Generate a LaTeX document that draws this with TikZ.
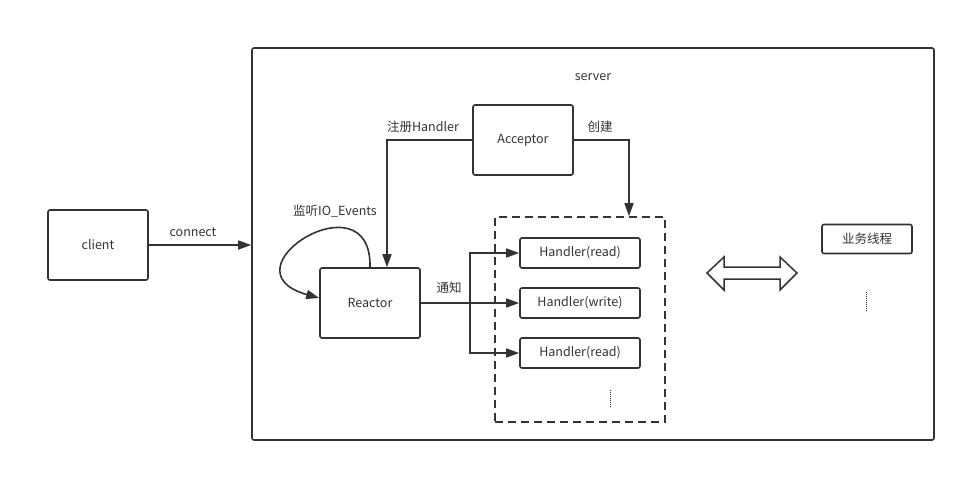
\documentclass[tikz,border=0pt]{standalone}
\usepackage{fontspec}
\setmainfont{Noto Sans CJK SC}
\usetikzlibrary{arrows.meta,positioning,calc}

\definecolor{ink}{HTML}{333333}

\begin{document}
\begin{tikzpicture}[x=1pt,y=-1pt,>={Triangle[length=13pt,width=9pt]},
  every node/.style={font=\fontsize{12.5}{14}\selectfont,text=ink},
  box/.style={draw=ink,line width=1.6pt,rounded corners=2pt,minimum width=100,minimum height=70},
  hbox/.style={draw=ink,line width=1.6pt,rounded corners=2pt,minimum width=120,minimum height=30},
  wbox/.style={draw=ink,line width=1.6pt,rounded corners=2pt,minimum width=90,minimum height=29},
  conn/.style={draw=ink,line width=1.6pt},
  arr/.style={conn,->}]
\useasboundingbox(0,0)rectangle(966,477);
% frames
\node[draw=ink,line width=1.6pt,rounded corners=2pt,minimum width=682,minimum height=392](server)at(593,244){};
\node(serverlbl)at(593,77){server};
\node[draw=ink,line width=1.6pt,dash pattern=on 8pt off 5pt,minimum width=170,minimum height=205](pool)at(580,319.5){};
% boxes
\node[box](client)at(98,245){client};
\node[box](acceptor)at(523,140){Acceptor};
\node[box](reactor)at(370,303){Reactor};
\node[hbox](h1)at(580,253){Handler(read)};
\node[hbox](h2)at(580,303){Handler(write)};
\node[hbox](h3)at(580,353){Handler(read)};
\node[wbox](worker)at(867,239){业务线程};
% connectors
\draw[arr](client.east)--(client.east-|server.west);
\node(connlbl)at(193,232){connect};
\draw[arr](acceptor.west)-|([xshift=17pt]reactor.north);
\node(reglbl)at(423,127){注册Handler};
\draw[arr](acceptor.east)-|([xshift=49pt]pool.north);
\node(newlbl)at(600,127){创建};
\draw[arr](reactor.north).. controls +(2,-93) and +(-100,-28) ..($(reactor.west)+(0,-5)$);
\node(looplbl)at(335,211){监听IO\_Events};
\coordinate(fork)at(470,303);
\draw[conn](reactor.east)--(fork);
\draw[arr](fork)--(h2.west);
\draw[arr](fork)|-(h1.west);
\draw[arr](fork)|-(h3.west);
\node(notelbl)at(449,288){通知};
% more handlers / threads
\draw[ink,line width=1pt,dash pattern=on 1pt off 1pt](610,390)--(610,408);
\draw[ink,line width=1pt,dash pattern=on 1pt off 1pt](866,292)--(866,312);
% exchange arrow
\draw[ink,line width=1.5pt,line join=miter](707,273)--(724,257)--(724,267)--(780,267)--(780,257)--(797,273)--(780,290)--(780,279)--(724,279)--(724,290)--cycle;
\end{tikzpicture}
\end{document}
